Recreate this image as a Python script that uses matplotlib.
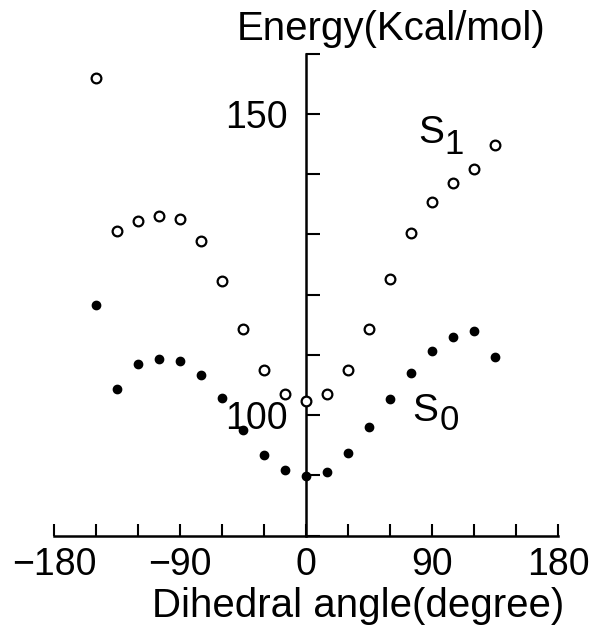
""" Energy curves S0 / S1 vs dihedral angle. """

import matplotlib
matplotlib.use("Agg")
import matplotlib.pyplot as plt
from matplotlib.ticker import MultipleLocator, FixedLocator

plt.rcParams["font.family"] = ["Liberation Sans", "DejaVu Sans"]

angles = [-150, -135, -120, -105, -90, -75, -60, -45, -30, -15,
          0, 15, 30, 45, 60, 75, 90, 105, 120, 135]
s1 = [156.0, 130.6, 132.2, 133.1, 132.6, 128.9, 122.3, 114.2, 107.4, 103.5,
      102.4, 103.5, 107.4, 114.3, 122.6, 130.2, 135.4, 138.5, 140.8, 144.9]
s0 = [118.2, 104.4, 108.5, 109.3, 108.9, 106.7, 102.8, 97.5, 93.4, 90.8,
      89.8, 90.6, 93.7, 98.0, 102.7, 107.0, 110.6, 113.0, 114.0, 109.6]

x_major = [-180, -90, 0, 90, 180]

fig = plt.figure(figsize=(5.96, 6.27), dpi=100)
ax = fig.add_axes([0.0906, 0.1459, 0.8461, 0.7687])

ax.set_xlim(-180, 180)
ax.set_ylim(80, 160)

# open circles = S1, filled dots = S0
ax.plot(angles, s1, linestyle="none", marker="o", ms=7, mfc="white",
        mec="black", mew=1.6, clip_on=False, zorder=5)
ax.plot(angles, s0, linestyle="none", marker="o", ms=6, mfc="black",
        mec="black", clip_on=False, zorder=5)

# axes look: y axis sits at x = 0
ax.spines["left"].set_position(("data", 0))
ax.spines["top"].set_visible(False)
ax.spines["right"].set_visible(False)
for s in ["left", "bottom"]:
    ax.spines[s].set_linewidth(1.8)

ax.xaxis.set_major_locator(FixedLocator(x_major))
ax.xaxis.set_minor_locator(MultipleLocator(30))
ax.yaxis.set_major_locator(MultipleLocator(50))
ax.yaxis.set_minor_locator(MultipleLocator(10))

ax.tick_params(axis="x", which="both", direction="in", length=9,
               width=1.5, labelsize=27, pad=8)
ax.tick_params(axis="y", which="both", direction="in", length=10,
               width=1.5, labelsize=27, pad=13.5)
ax.set_xticklabels(["\u2212180", "\u221290", "0", "90", "180"])

fig.text(0.601, 0.016, "Dihedral angle(degree)", fontsize=29,
         ha="center", va="baseline")
fig.text(0.657, 0.936, "Energy(Kcal/mol)", fontsize=29,
         ha="center", va="baseline")

# curve labels
ax.text(79.9, 145.2, "S", fontsize=28, va="baseline")
ax.text(98.5, 143.3, "1", fontsize=25, va="baseline")
ax.text(75.6, 99.0, "S", fontsize=28, va="baseline")
ax.text(95.6, 97.5, "0", fontsize=25, va="baseline")

fig.savefig("out.png", dpi=100)
